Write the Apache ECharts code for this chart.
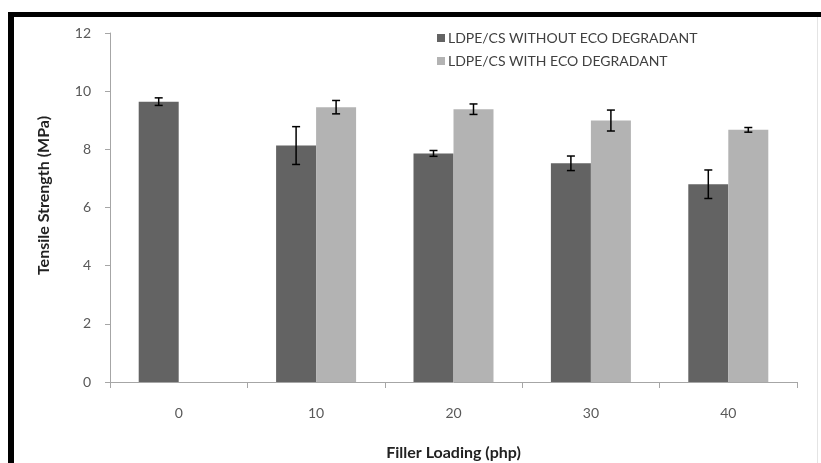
<!DOCTYPE html>
<html>
<head>
<meta charset="utf-8">
<script src="https://cdn.jsdelivr.net/npm/echarts@6/dist/echarts.min.js"></script>
<style>
html,body{margin:0;padding:0;background:#fff;}
#c{width:821px;height:463px;}
</style>
</head>
<body>
<div id="c"></div>
<script>
const categories = ['0', '10', '20', '30', '40'];
const seriesNames = ['LDPE/CS WITHOUT ECO DEGRADANT', 'LDPE/CS WITH ECO DEGRADANT'];
const withoutVals = [9.64, 8.13, 7.86, 7.52, 6.80];
const withoutErr = [0.13, 0.65, 0.10, 0.25, 0.49];
const withVals = [null, 9.45, 9.38, 8.99, 8.67];
const withErr = [null, 0.23, 0.18, 0.36, 0.08];
const yTicks = [0, 2, 4, 6, 8, 10, 12];

const BAR_W = 40;
const FONT = "Lato, 'Open Sans', sans-serif";

function errData(vals, errs) {
  return vals.map((v, i) => v == null ? null : [i, v - errs[i], v + errs[i]]);
}

function errSeries(vals, errs, offset) {
  return {
    type: 'custom',
    silent: true,
    z: 10,
    data: errData(vals, errs).filter(d => d),
    renderItem: function (params, api) {
      const lo = api.coord([api.value(0), api.value(1)]);
      const hi = api.coord([api.value(0), api.value(2)]);
      const x = lo[0] + offset;
      const cap = 4;
      const style = { stroke: '#000', lineWidth: 1.5 };
      return {
        type: 'group',
        children: [
          { type: 'line', shape: { x1: x, y1: lo[1], x2: x, y2: hi[1] }, style: style },
          { type: 'line', shape: { x1: x - cap, y1: lo[1], x2: x + cap, y2: lo[1] }, style: style },
          { type: 'line', shape: { x1: x - cap, y1: hi[1], x2: x + cap, y2: hi[1] }, style: style }
        ]
      };
    }
  };
}

const chart = echarts.init(document.getElementById('c'), null, { renderer: 'canvas' });
chart.setOption({
  animation: false,
  backgroundColor: '#fff',
  textStyle: { fontFamily: FONT },
  graphic: [
    { type: 'rect', shape: { x: 8, y: 12, width: 813, height: 5 }, style: { fill: '#000' } },
    { type: 'rect', shape: { x: 8, y: 12, width: 6, height: 451 }, style: { fill: '#000' } },
    { type: 'rect', shape: { x: 817, y: 17, width: 1, height: 446 }, style: { fill: '#e4e4e4' } }
  ],
  grid: { left: 110, right: 24, top: 33, bottom: 81, outerBoundsMode: 'none', containLabel: false },
  legend: {
    orient: 'vertical',
    left: 432,
    top: 26,
    itemWidth: 8,
    itemHeight: 8,
    itemGap: 9,
    icon: 'rect',
    data: seriesNames,
    textStyle: { fontFamily: FONT, fontSize: 14, color: '#404040', padding: [0, 0, 0, -2] }
  },
  xAxis: {
    type: 'category',
    data: categories,
    name: 'Filler Loading (php)',
    nameLocation: 'middle',
    nameGap: 63,
    nameTextStyle: { fontFamily: FONT, fontSize: 16, fontWeight: 'bold', color: '#222' },
    axisLine: { lineStyle: { color: '#a6a6a6', width: 1 } },
    axisTick: { show: true, length: 6, alignWithLabel: false, lineStyle: { color: '#a6a6a6' } },
    axisLabel: { fontFamily: FONT, fontSize: 14, color: '#595959', margin: 24 }
  },
  yAxis: {
    type: 'value',
    min: 0,
    max: 12,
    interval: 2,
    name: 'Tensile Strength (MPa)',
    nameLocation: 'middle',
    nameGap: 58,
    nameTextStyle: { fontFamily: FONT, fontSize: 16, fontWeight: 'bold', color: '#222', padding: [0, 0, 0, 24] },
    axisLine: { show: true, lineStyle: { color: '#a6a6a6', width: 1 } },
    axisTick: { show: true, length: 5, lineStyle: { color: '#a6a6a6' } },
    splitLine: { show: false },
    axisLabel: { fontFamily: FONT, fontSize: 14, color: '#595959', margin: 19,
      formatter: v => yTicks.includes(v) ? String(v) : '' }
  },
  series: [
    { name: seriesNames[0], type: 'bar', data: withoutVals, barWidth: BAR_W, barGap: '0%',
      itemStyle: { color: '#636363' } },
    { name: seriesNames[1], type: 'bar', data: withVals, barWidth: BAR_W, barGap: '0%',
      itemStyle: { color: '#b3b3b3' } },
    errSeries(withoutVals, withoutErr, -BAR_W / 2),
    errSeries(withVals, withErr, BAR_W / 2)
  ]
});
</script>
</body>
</html>
